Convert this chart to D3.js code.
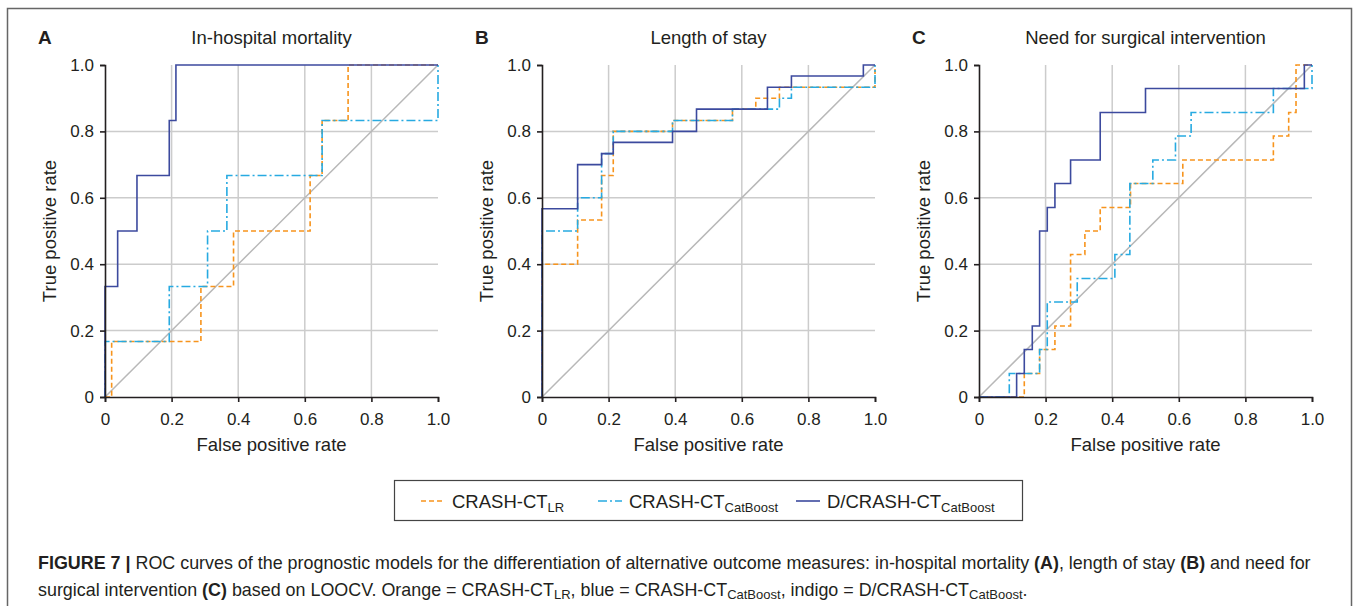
<!DOCTYPE html>
<html>
<head>
<meta charset="utf-8">
<script src="https://cdn.jsdelivr.net/npm/d3@7"></script>
<style>
  body { margin: 0; background: #fff; }
  text { font-family: "Liberation Sans", Arial, sans-serif; fill: #231f20; }
</style>
</head>
<body>
<div id="my_dataviz"></div>
<script>
// panel titles and tick labels
const panelLetters = ["A", "B", "C"];
const panelTitles = ["In-hospital mortality", "Length of stay", "Need for surgical intervention"];
const tickValues = [0, 0.2, 0.4, 0.6, 0.8, 1.0];
const tickLabels = ["0", "0.2", "0.4", "0.6", "0.8", "1.0"];
const modelNames = ["CRASH-CT", "CRASH-CT", "D/CRASH-CT"];
const modelSubs = ["LR", "CatBoost", "CatBoost"];

// ROC step points (fpr where tpr rises, new tpr), curves start at (0,0)
const fprA_LR = [0.02, 0.288, 0.386, 0.616, 0.652, 0.73, 1];
const tprA_LR = [0.167, 0.333, 0.5, 0.667, 0.833, 1, 1];
const fprA_Cat = [0, 0.193, 0.308, 0.366, 0.652, 1];
const tprA_Cat = [0.167, 0.333, 0.5, 0.667, 0.833, 1];
const fprA_D = [0, 0.038, 0.096, 0.193, 0.213, 1];
const tprA_D = [0.333, 0.5, 0.667, 0.833, 1, 1];

const fprB_LR = [0, 0.107, 0.179, 0.214, 0.392, 0.572, 0.642, 0.713, 1];
const tprB_LR = [0.4, 0.533, 0.667, 0.8, 0.833, 0.867, 0.9, 0.933, 1];
const fprB_Cat = [0, 0.107, 0.179, 0.214, 0.392, 0.572, 0.713, 0.749, 1];
const tprB_Cat = [0.5, 0.6, 0.733, 0.8, 0.833, 0.867, 0.9, 0.933, 1];
const fprB_D = [0, 0.107, 0.179, 0.214, 0.392, 0.464, 0.677, 0.749, 0.965, 1];
const tprB_D = [0.567, 0.7, 0.733, 0.767, 0.8, 0.867, 0.933, 0.967, 1, 1];

const fprC_LR = [0.136, 0.182, 0.228, 0.275, 0.318, 0.364, 0.455, 0.612, 0.884, 0.93, 0.952, 1];
const tprC_LR = [0.071, 0.143, 0.214, 0.429, 0.5, 0.571, 0.643, 0.714, 0.786, 0.857, 1, 1];
const fprC_Cat = [0.091, 0.182, 0.205, 0.295, 0.408, 0.453, 0.522, 0.59, 0.637, 0.884, 1];
const tprC_Cat = [0.071, 0.143, 0.286, 0.357, 0.429, 0.643, 0.714, 0.786, 0.857, 0.929, 1];
const fprC_D = [0.113, 0.136, 0.16, 0.182, 0.205, 0.228, 0.275, 0.364, 0.5, 0.977, 1];
const tprC_D = [0.071, 0.143, 0.214, 0.5, 0.571, 0.643, 0.714, 0.857, 0.929, 1, 1];

const panels = [
    [[fprA_LR, tprA_LR], [fprA_Cat, tprA_Cat], [fprA_D, tprA_D]],
    [[fprB_LR, tprB_LR], [fprB_Cat, tprB_Cat], [fprB_D, tprB_D]],
    [[fprC_LR, tprC_LR], [fprC_Cat, tprC_Cat], [fprC_D, tprC_D]]
];

const colors = ["#f7941d", "#27aae1", "#3c4a9e"];
const dashes = ["5,3", "9,3,2,3", null];

const W = 1357, H = 606;
const plotW = 333, plotH = 332, plotTop = 65;
const plotLefts = [105, 542, 979];

const svg = d3.select("#my_dataviz")
    .append("svg")
    .attr("width", W)
    .attr("height", H);

// outer frame
svg.append("path")
    .attr("d", `M7.5,${H + 2}V8.5H1351.5V${H + 2}`)
    .attr("fill", "none")
    .attr("stroke", "#666")
    .attr("stroke-width", 1.5);

const x = d3.scaleLinear().domain([0, 1]).range([0, plotW]);
const y = d3.scaleLinear().domain([0, 1]).range([plotH, 0]);

const line = d3.line()
    .x(d => x(d[0]))
    .y(d => y(d[1]))
    .curve(d3.curveStepAfter);

panels.forEach(function (series, p) {
    const left = plotLefts[p];
    const g = svg.append("g")
        .attr("transform", `translate(${left},${plotTop})`);

    // grid
    g.append("g")
        .selectAll("line")
        .data(tickValues.slice(1, 5))
        .join("line")
        .attr("x1", d => x(d)).attr("x2", d => x(d))
        .attr("y1", 0).attr("y2", plotH)
        .attr("stroke", "#cccccc").attr("stroke-width", 1.5);
    g.append("g")
        .selectAll("line")
        .data(tickValues.slice(1, 5))
        .join("line")
        .attr("y1", d => y(d)).attr("y2", d => y(d))
        .attr("x1", 0).attr("x2", plotW)
        .attr("stroke", "#cccccc").attr("stroke-width", 1.5);

    // chance diagonal
    g.append("line")
        .attr("x1", x(0)).attr("y1", y(0))
        .attr("x2", x(1)).attr("y2", y(1))
        .attr("stroke", "#b8b8b8").attr("stroke-width", 1.5);

    // ROC curves
    series.forEach(function (s, i) {
        const pts = [[0, 0]].concat(s[0].map((f, k) => [f, s[1][k]]));
        g.append("path")
            .datum(pts)
            .attr("d", line)
            .attr("fill", "none")
            .attr("stroke", colors[i])
            .attr("stroke-width", 1.6)
            .attr("stroke-dasharray", dashes[i]);
    });

    // axes
    const xAxis = g.append("g")
        .attr("transform", `translate(0,${plotH})`)
        .call(d3.axisBottom(x).tickValues(tickValues).tickFormat((d, i) => tickLabels[i]).tickSizeOuter(0).tickSize(5));
    const yAxis = g.append("g")
        .call(d3.axisLeft(y).tickValues(tickValues).tickFormat((d, i) => tickLabels[i]).tickSizeOuter(0).tickSize(5));
    [xAxis, yAxis].forEach(a => {
        a.select(".domain").attr("stroke", "#231f20").attr("stroke-width", 1.6);
        a.selectAll(".tick line").attr("stroke", "#231f20").attr("stroke-width", 1.6);
        a.selectAll(".tick text")
            .attr("font-family", "Liberation Sans, Arial, sans-serif")
            .attr("font-size", 17)
            .attr("fill", "#231f20");
    });
    xAxis.selectAll(".tick text").attr("y", 28).attr("dy", null);
    yAxis.selectAll(".tick text").attr("x", -11);

    // axis titles
    g.append("text")
        .attr("x", plotW / 2)
        .attr("y", plotH + 54)
        .attr("text-anchor", "middle")
        .style("font-size", "18.5px")
        .text("False positive rate");
    g.append("text")
        .attr("transform", `translate(-49,${plotH / 2})rotate(-90)`)
        .attr("text-anchor", "middle")
        .style("font-size", "18.5px")
        .text("True positive rate");

    // panel letter and title
    svg.append("text")
        .attr("x", left - 67)
        .attr("y", 44)
        .style("font-size", "19px")
        .style("font-weight", "bold")
        .text(panelLetters[p]);
    svg.append("text")
        .attr("x", left + plotW / 2)
        .attr("y", 44)
        .attr("text-anchor", "middle")
        .style("font-size", "18.5px")
        .text(panelTitles[p]);
});

// legend
const legend = svg.append("g");
legend.append("rect")
    .attr("x", 394.5).attr("y", 480.5)
    .attr("width", 628).attr("height", 40)
    .attr("fill", "none").attr("stroke", "#444").attr("stroke-width", 1.2);
const legendX = [421, 598, 796];
const legendTextX = [452, 629, 827];
modelNames.forEach(function (name, i) {
    legend.append("line")
        .attr("x1", legendX[i]).attr("x2", legendX[i] + 24)
        .attr("y1", 501).attr("y2", 501)
        .attr("stroke", colors[i]).attr("stroke-width", 1.6)
        .attr("stroke-dasharray", dashes[i]);
    const t = legend.append("text")
        .attr("x", legendTextX[i])
        .attr("y", 508)
        .style("font-size", "18.5px");
    t.append("tspan").text(name);
    t.append("tspan").attr("dy", 4).style("font-size", "13px").text(modelSubs[i]);
});

// caption
const cap1 = svg.append("text").attr("x", 38).attr("y", 569).style("font-size", "17.9px");
cap1.append("tspan").style("font-weight", "bold").text("FIGURE 7 | ");
cap1.append("tspan").text("ROC curves of the prognostic models for the differentiation of alternative outcome measures: in-hospital mortality ");
cap1.append("tspan").style("font-weight", "bold").text("(A)");
cap1.append("tspan").text(", length of stay ");
cap1.append("tspan").style("font-weight", "bold").text("(B)");
cap1.append("tspan").text(" and need for");

const cap2 = svg.append("text").attr("x", 38).attr("y", 596).style("font-size", "17.9px");
cap2.append("tspan").text("surgical intervention ");
cap2.append("tspan").style("font-weight", "bold").text("(C)");
cap2.append("tspan").text(" based on LOOCV. Orange = CRASH-CT");
cap2.append("tspan").attr("dy", 3).style("font-size", "13px").text("LR");
cap2.append("tspan").attr("dy", -3).text(", blue = CRASH-CT");
cap2.append("tspan").attr("dy", 3).style("font-size", "13px").text("CatBoost");
cap2.append("tspan").attr("dy", -3).text(", indigo = D/CRASH-CT");
cap2.append("tspan").attr("dy", 3).style("font-size", "13px").text("CatBoost");
cap2.append("tspan").attr("dy", -3).text(".");
</script>
</body>
</html>
